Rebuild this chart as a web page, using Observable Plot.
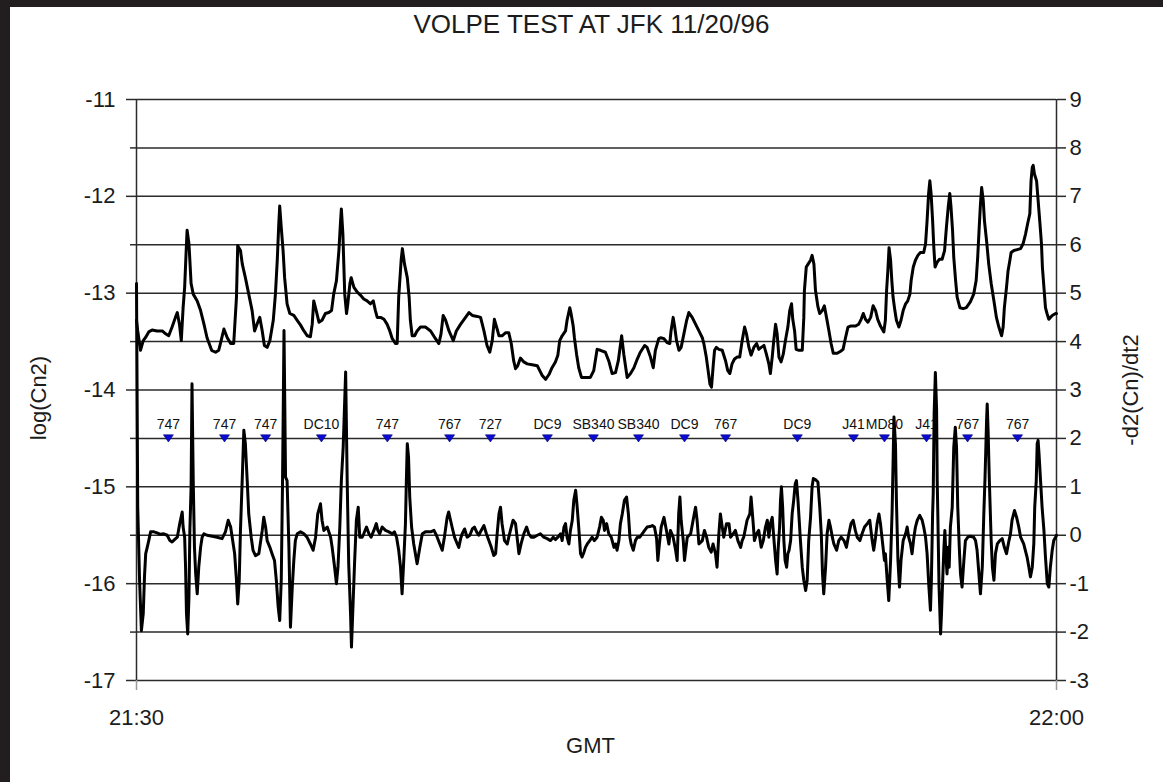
<!DOCTYPE html>
<html>
<head>
<meta charset="utf-8">
<script src="https://cdn.jsdelivr.net/npm/d3@7"></script>
<script src="https://cdn.jsdelivr.net/npm/@observablehq/plot@0.6"></script>
<style>
  html, body { margin: 0; padding: 0; background: #221e1f; width: 1163px; height: 782px; overflow: hidden; }
  #chart { position: absolute; left: 10px; top: 7px; width: 1153px; height: 775px; background: #ffffff; }
</style>
</head>
<body>
<div id="chart"></div>
<script>
// Time axis: minutes after 21:30 GMT
const timeDomain = [0, 30];
const timeTicks = [0, 30];
const timeTickLabels = ["21:30", "22:00"];

// Left axis: log(Cn2)
const leftDomain = [-17, -11];
// Right axis: -d2(Cn)/dt2 (shares the grid: -3 .. 9)
const rightDomain = [-3, 9];

// log(Cn2) series: [minutes, log(Cn2)]
const cn2Series = [
[0,-13.28],[0.04,-13.39],[0.13,-13.59],[0.22,-13.49],[0.29,-13.46],[0.40,-13.40],[0.51,-13.38],[0.67,-13.39],[0.84,-13.39],[0.95,-13.42],[1.05,-13.44],[1.16,-13.35],[1.27,-13.25],[1.33,-13.20],[1.40,-13.32],[1.46,-13.49],[1.52,-13.15],[1.57,-12.94],[1.62,-12.56],[1.65,-12.35],[1.71,-12.49],[1.74,-12.66],[1.78,-12.90],[1.85,-13.01],[1.98,-13.08],[2.09,-13.18],[2.20,-13.32],[2.30,-13.46],[2.45,-13.59],[2.58,-13.61],[2.68,-13.59],[2.76,-13.49],[2.85,-13.37],[2.96,-13.46],[3.07,-13.52],[3.17,-13.52],[3.26,-13.04],[3.30,-12.51],[3.39,-12.56],[3.45,-12.70],[3.55,-12.84],[3.66,-13.01],[3.77,-13.18],[3.85,-13.39],[3.93,-13.32],[4.02,-13.25],[4.10,-13.39],[4.17,-13.54],[4.26,-13.56],[4.35,-13.49],[4.46,-13.28],[4.53,-13.01],[4.59,-12.66],[4.64,-12.28],[4.67,-12.10],[4.72,-12.32],[4.78,-12.56],[4.83,-12.84],[4.91,-13.11],[5.00,-13.21],[5.13,-13.23],[5.24,-13.28],[5.35,-13.33],[5.46,-13.39],[5.57,-13.44],[5.67,-13.45],[5.73,-13.32],[5.78,-13.08],[5.86,-13.18],[5.95,-13.30],[6.05,-13.28],[6.16,-13.21],[6.27,-13.20],[6.36,-13.18],[6.43,-13.01],[6.52,-12.87],[6.60,-12.56],[6.65,-12.28],[6.68,-12.13],[6.73,-12.39],[6.76,-12.70],[6.79,-13.01],[6.85,-13.21],[6.89,-13.11],[6.96,-12.90],[7.00,-12.84],[7.09,-12.94],[7.20,-12.99],[7.30,-13.02],[7.41,-13.06],[7.52,-13.08],[7.63,-13.11],[7.72,-13.08],[7.79,-13.18],[7.85,-13.25],[7.96,-13.25],[8.07,-13.27],[8.17,-13.32],[8.26,-13.39],[8.34,-13.47],[8.45,-13.52],[8.50,-13.52],[8.55,-13.04],[8.63,-12.66],[8.67,-12.54],[8.74,-12.70],[8.83,-12.84],[8.89,-13.04],[8.93,-13.28],[8.99,-13.44],[9.07,-13.44],[9.15,-13.39],[9.26,-13.35],[9.42,-13.35],[9.59,-13.39],
[9.75,-13.47],[9.86,-13.52],[9.93,-13.42],[10.00,-13.23],[10.08,-13.28],[10.19,-13.39],[10.33,-13.49],[10.43,-13.39],[10.57,-13.32],[10.73,-13.25],[10.84,-13.20],[10.95,-13.23],[11.11,-13.24],[11.22,-13.25],[11.33,-13.39],[11.43,-13.54],[11.52,-13.61],[11.60,-13.49],[11.67,-13.27],[11.76,-13.37],[11.82,-13.44],[11.92,-13.44],[12.03,-13.41],[12.14,-13.41],[12.22,-13.52],[12.30,-13.70],[12.36,-13.78],[12.43,-13.75],[12.52,-13.67],[12.63,-13.71],[12.74,-13.73],[12.90,-13.74],[13.07,-13.75],[13.15,-13.80],[13.23,-13.85],[13.34,-13.89],[13.45,-13.84],[13.55,-13.77],[13.66,-13.71],[13.74,-13.64],[13.80,-13.49],[13.88,-13.44],[13.99,-13.39],[14.04,-13.28],[14.13,-13.15],[14.17,-13.21],[14.24,-13.34],[14.28,-13.46],[14.35,-13.63],[14.42,-13.77],[14.51,-13.87],[14.64,-13.87],[14.80,-13.87],[14.91,-13.80],[15.02,-13.58],[15.13,-13.59],[15.29,-13.61],[15.40,-13.70],[15.51,-13.83],[15.62,-13.82],[15.71,-13.70],[15.82,-13.44],[15.89,-13.63],[16.00,-13.87],[16.11,-13.83],[16.22,-13.77],[16.33,-13.68],[16.43,-13.61],[16.57,-13.54],[16.65,-13.56],[16.76,-13.66],[16.85,-13.77],[16.92,-13.59],[17.03,-13.47],[17.09,-13.46],
[17.20,-13.47],[17.30,-13.51],[17.39,-13.52],[17.43,-13.39],[17.50,-13.25],[17.55,-13.35],[17.61,-13.49],[17.69,-13.59],[17.76,-13.56],[17.85,-13.42],[17.94,-13.28],[18.01,-13.20],[18.12,-13.25],[18.23,-13.32],[18.34,-13.39],[18.45,-13.46],[18.50,-13.52],[18.58,-13.66],[18.64,-13.80],[18.70,-13.94],[18.75,-13.97],[18.81,-13.73],[18.85,-13.59],[18.91,-13.56],[18.99,-13.58],[19.10,-13.59],[19.21,-13.70],[19.28,-13.80],[19.35,-13.83],[19.42,-13.73],[19.50,-13.68],[19.59,-13.66],[19.67,-13.66],[19.75,-13.49],[19.83,-13.35],[19.89,-13.42],[19.97,-13.56],[20.04,-13.64],[20.13,-13.56],[20.22,-13.52],[20.29,-13.58],[20.37,-13.56],[20.46,-13.54],[20.54,-13.63],[20.62,-13.73],[20.67,-13.83],[20.73,-13.66],[20.78,-13.49],[20.84,-13.32],[20.89,-13.42],[20.95,-13.66],[21.02,-13.71],[21.09,-13.63],[21.16,-13.49],[21.24,-13.35],[21.30,-13.18],[21.36,-13.11],[21.40,-13.27],[21.46,-13.39],[21.51,-13.58],[21.60,-13.59],[21.71,-13.59],[21.76,-13.25],[21.78,-12.97],[21.84,-12.73],[21.90,-12.70],[21.98,-12.66],[22.03,-12.61],[22.09,-12.70],[22.14,-12.97],[22.22,-13.14],[22.28,-13.21],[22.36,-13.18],[22.43,-13.13],[22.50,-13.25],[22.58,-13.39],[22.65,-13.52],[22.72,-13.62],[22.85,-13.62],[22.96,-13.60],[23.04,-13.58],[23.12,-13.46],[23.20,-13.35],[23.28,-13.34],[23.45,-13.34],[23.55,-13.32],[23.63,-13.27],[23.70,-13.21],[23.77,-13.27],[23.85,-13.30],[23.94,-13.25],[24.02,-13.13],[24.10,-13.18],[24.17,-13.27],[24.26,-13.34],
[24.37,-13.40],[24.42,-13.28],[24.46,-12.97],[24.50,-12.77],[24.54,-12.53],[24.59,-12.66],[24.63,-12.87],[24.67,-13.04],[24.73,-13.18],[24.78,-13.28],[24.86,-13.35],[24.93,-13.28],[25.00,-13.18],[25.08,-13.11],[25.15,-13.08],[25.22,-13.01],[25.26,-12.87],[25.33,-12.73],[25.40,-12.66],[25.48,-12.61],[25.56,-12.58],[25.67,-12.58],[25.73,-12.49],[25.78,-12.25],[25.83,-11.97],[25.87,-11.84],[25.91,-11.97],[25.96,-12.25],[26.00,-12.53],[26.04,-12.73],[26.11,-12.68],[26.18,-12.65],[26.27,-12.65],[26.35,-12.56],[26.41,-12.32],[26.47,-12.11],[26.52,-11.97],[26.56,-12.11],[26.61,-12.35],[26.65,-12.63],[26.71,-12.87],[26.76,-13.04],[26.85,-13.15],[26.96,-13.16],[27.06,-13.15],[27.19,-13.09],[27.30,-13.01],[27.38,-12.87],[27.43,-12.63],[27.48,-12.32],[27.52,-12.08],[27.56,-11.91],[27.61,-12.04],[27.65,-12.25],[27.72,-12.46],[27.79,-12.70],[27.87,-12.90],[27.96,-13.08],[28.04,-13.25],[28.12,-13.35],[28.21,-13.44],[28.26,-13.35],[28.30,-13.15],[28.37,-12.94],[28.42,-12.77],[28.48,-12.66],[28.52,-12.58],[28.61,-12.56],[28.72,-12.55],[28.83,-12.54],[28.91,-12.49],[28.99,-12.39],[29.06,-12.28],[29.13,-12.18],[29.17,-11.84],[29.21,-11.70],[29.24,-11.68],[29.28,-11.77],[29.35,-11.84],[29.40,-12.04],[29.46,-12.28],[29.51,-12.49],[29.54,-12.73],[29.59,-12.94],[29.64,-13.15],[29.69,-13.21],[29.75,-13.27],[29.86,-13.23],[29.97,-13.21],[30.00,-13.21]
];

// -d2(Cn)/dt2 series: [minutes, value on right axis]
const d2Series = [
[0,5.2],[0.04,0.58],[0.10,-0.93],[0.16,-1.97],[0.22,-1.62],[0.26,-0.86],[0.30,-0.38],[0.35,-0.25],[0.40,-0.11],[0.46,0.07],[0.57,0.07],[0.67,0.05],[0.78,0.02],[0.89,0.03],[1.00,0.00],[1.09,-0.11],[1.16,-0.14],[1.24,-0.09],[1.33,-0.04],[1.41,0.24],[1.49,0.48],[1.52,0.17],[1.57,-0.04],[1.60,-0.66],[1.63,-1.62],[1.67,-2.04],[1.71,-1.28],[1.74,0.10],[1.78,0.99],[1.81,3.13],[1.85,1.13],[1.89,-0.25],[1.93,-0.80],[1.98,-1.21],[2.03,-0.66],[2.09,-0.25],[2.14,-0.04],[2.20,0.03],[2.30,0.00],[2.47,-0.02],[2.63,-0.04],[2.79,-0.07],[2.90,0.07],[2.99,0.31],[3.07,0.17],[3.12,-0.04],[3.20,-0.38],[3.26,-0.93],[3.30,-1.42],[3.35,-0.93],[3.39,0.10],[3.45,1.20],[3.50,2.17],[3.55,1.89],[3.61,1.13],[3.66,0.44],[3.74,-0.04],[3.80,-0.31],[3.88,-0.42],[3.99,-0.38],[4.10,0.10],[4.15,0.37],[4.21,0.17],[4.26,-0.11],[4.35,-0.25],[4.42,-0.38],[4.50,-0.52],[4.56,-0.93],[4.62,-1.48],[4.67,-1.76],[4.72,-0.93],[4.76,0.99],[4.81,4.23],[4.86,1.20],[4.91,1.13],[4.97,-0.25],[5.02,-1.90],[5.08,-1.07],[5.13,-0.52],[5.18,-0.11],[5.24,0.03],[5.35,0.07],[5.46,0.03],[5.56,-0.04],[5.67,-0.18],[5.76,-0.31],[5.84,-0.04],[5.91,0.44],[6.00,0.65],[6.05,0.31],[6.11,0.10],[6.22,0.17],[6.33,-0.04],[6.38,-0.25],[6.46,-0.66],[6.52,-1.00],[6.57,-0.66],[6.63,0.17],[6.68,1.13],[6.74,1.82],[6.82,3.37],[6.87,1.13],[6.92,-0.59],[6.98,-1.62],[7.01,-2.31],[7.05,-1.62],[7.11,-0.59],[7.17,0.31],[7.23,0.58],[7.28,-0.04],[7.36,-0.04],[7.41,0.03],[7.50,0.17],[7.58,0.03],[7.65,-0.04],[7.74,0.10],[7.82,0.24],[7.87,0.10],[7.93,0.03],[8.01,0.17],[8.12,0.10],[8.23,0.07],[8.34,0.03],[8.41,0.07],[8.48,-0.04],[8.55,-0.31],[8.61,-0.66],[8.66,-1.21],[8.72,-0.45],[8.77,0.24],[8.80,1.13],[8.83,1.89],[8.87,1.62],[8.91,0.79],[8.97,0.17],[9.04,-0.18],[9.15,-0.59],[9.24,-0.25],[9.32,0.03],[9.42,0.07],[9.59,0.07],
[9.70,0.10],[9.78,0.00],[9.89,-0.18],[9.97,-0.31],[10.04,-0.04],[10.13,0.37],[10.18,0.48],[10.24,0.31],[10.29,0.17],[10.37,-0.04],[10.46,-0.18],[10.51,-0.25],[10.57,-0.07],[10.62,0.03],[10.70,0.13],[10.78,-0.04],[10.87,0.00],[10.95,0.13],[11.02,0.17],[11.09,0.07],[11.16,0.00],[11.24,0.10],[11.33,0.20],[11.41,0.03],[11.49,-0.11],[11.57,-0.25],[11.65,-0.42],[11.71,-0.38],[11.76,0.03],[11.82,0.44],[11.87,0.58],[11.92,0.24],[12.00,-0.11],[12.09,-0.18],[12.14,-0.04],[12.22,0.17],[12.28,0.31],[12.36,0.24],[12.41,-0.04],[12.47,-0.38],[12.54,-0.18],[12.63,0.03],[12.72,0.17],[12.79,0.03],[12.87,-0.04],[12.96,-0.04],[13.07,0.00],[13.17,0.03],[13.28,-0.04],[13.39,-0.07],[13.50,-0.11],[13.59,-0.04],[13.66,-0.09],[13.74,-0.04],[13.83,0.03],[13.88,-0.11],[13.94,0.17],[13.99,0.24],[14.04,-0.04],[14.10,-0.18],[14.15,0.10],[14.21,0.31],[14.26,0.72],[14.32,0.93],[14.37,0.58],[14.42,0.17],[14.48,-0.38],[14.53,-0.45],[14.59,-0.35],[14.64,-0.25],[14.70,-0.18],[14.78,-0.11],[14.86,-0.04],[14.93,-0.11],[15.02,-0.04],[15.10,0.17],[15.16,0.37],[15.22,0.31],[15.26,0.10],[15.33,0.24],[15.40,0.03],[15.48,-0.04],[15.57,-0.25],[15.62,-0.18],[15.67,-0.31],[15.73,-0.11],[15.78,0.24],[15.84,0.44],[15.91,0.72],[15.98,0.79],[16.04,0.44],[16.09,-0.04],[16.13,-0.18],[16.20,-0.31],[16.27,-0.11],[16.33,-0.04],[16.41,-0.04],[16.49,0.03],[16.57,0.10],[16.65,0.17],[16.74,0.18],[16.82,0.20],[16.89,0.17],[16.96,-0.07],[17.00,-0.52],[17.04,-0.25],[17.11,0.17],[17.20,0.37],[17.28,0.10],[17.36,-0.18],[17.41,0.10],[17.50,-0.04],[17.58,-0.31],[17.63,-0.52],[17.68,0.44],[17.72,0.79],[17.76,0.31],[17.83,-0.11],[17.87,-0.52],[17.96,-0.04],[18.07,0.03],[18.15,0.31],[18.23,0.58],[18.28,0.31],[18.34,-0.18],[18.45,-0.11],[18.52,0.10],[18.59,-0.04],[18.66,-0.25],[18.74,-0.35],[18.80,-0.18],[18.88,-0.38],[18.93,-0.66],[18.99,0.03],[19.04,0.44],[19.10,0.17],[19.15,-0.04],[19.24,0.24],[19.32,0.24],[19.37,-0.04],[19.46,0.03],[19.53,0.10],[19.61,-0.11],[19.70,-0.25],[19.75,-0.11],[19.80,-0.04],[19.91,0.31],[20.00,0.44],[20.04,0.79],[20.11,0.24],[20.15,-0.11],[20.22,0.03],[20.29,0.10],[20.37,-0.25],[20.44,-0.11],[20.51,0.17],[20.57,0.31],[20.62,-0.04],[20.67,0.24],[20.73,0.37],[20.78,-0.04],[20.84,-0.52],
[20.89,-0.80],[20.92,-0.32],[20.97,0.17],[21.00,0.72],[21.03,1.00],[21.07,0.58],[21.11,-0.11],[21.15,-0.52],[21.20,-0.66],[21.24,-0.38],[21.28,-0.31],[21.33,-0.11],[21.38,0.44],[21.43,0.72],[21.48,1.06],[21.52,1.13],[21.57,0.72],[21.61,0.31],[21.65,-0.11],[21.71,-0.66],[21.76,-0.93],[21.82,-1.14],[21.87,-0.93],[21.92,-0.11],[21.98,0.37],[22.03,1.00],[22.07,1.17],[22.14,1.15],[22.22,1.10],[22.28,0.58],[22.33,0.03],[22.37,-0.80],[22.41,-1.21],[22.47,-0.66],[22.52,0.03],[22.58,0.31],[22.63,0.17],[22.69,-0.04],[22.74,-0.18],[22.83,-0.31],[22.90,-0.11],[22.98,-0.04],[23.07,-0.11],[23.15,-0.25],[23.23,0.03],[23.30,0.24],[23.37,0.31],[23.44,0.10],[23.50,-0.04],[23.59,-0.11],[23.66,0.03],[23.74,0.17],[23.83,0.24],[23.91,0.31],[23.99,-0.11],[24.04,-0.31],[24.10,-0.04],[24.15,0.24],[24.21,0.44],[24.26,0.24],[24.32,-0.11],[24.39,-0.52],
[24.42,-0.38],[24.48,-0.93],[24.53,-1.35],[24.59,-0.52],[24.64,0.51],[24.70,2.44],[24.75,1.86],[24.78,0.72],[24.83,-0.52],[24.88,-1.07],[24.93,-0.52],[25.00,-0.11],[25.08,0.03],[25.13,0.17],[25.18,-0.04],[25.24,-0.18],[25.29,-0.38],[25.35,-0.04],[25.40,0.17],[25.46,0.31],[25.54,0.41],[25.62,0.31],[25.67,0.17],[25.73,-0.04],[25.78,-0.38],[25.84,-1.07],[25.89,-1.55],[25.92,-0.93],[25.96,0.44],[25.98,0.86],[26.01,2.51],[26.05,3.36],[26.09,2.60],[26.11,1.13],[26.13,0.44],[26.17,-1.07],[26.22,-2.04],[26.25,-1.62],[26.28,-1.07],[26.33,-0.25],[26.36,0.10],[26.39,-0.38],[26.43,-0.80],[26.47,-0.25],[26.50,-0.66],[26.54,0.17],[26.60,0.58],[26.65,1.82],[26.70,2.23],[26.74,1.82],[26.78,0.58],[26.83,-0.25],[26.87,-0.80],[26.92,-1.07],[26.98,-0.52],[27.03,-0.11],[27.11,-0.04],[27.19,-0.02],[27.30,-0.04],[27.36,-0.11],[27.41,-0.31],[27.47,-0.80],[27.52,-1.21],[27.58,-0.66],[27.63,0.44],[27.67,1.20],[27.72,2.37],[27.74,2.71],[27.77,2.16],[27.81,1.13],[27.87,-0.11],[27.91,-0.66],[27.96,-0.93],[28.01,-0.38],[28.07,-0.18],[28.15,-0.11],[28.23,-0.07],[28.30,-0.25],[28.37,-0.38],[28.45,-0.11],[28.50,0.03],[28.55,0.31],[28.63,0.51],[28.70,0.37],[28.77,0.17],[28.83,-0.04],[28.93,-0.18],[29.04,-0.45],[29.10,-0.66],[29.15,-0.86],[29.21,-0.66],[29.26,-0.18],[29.29,0.58],[29.34,1.13],[29.37,1.89],[29.40,1.96],[29.43,1.68],[29.48,1.13],[29.53,0.58],[29.59,0.10],[29.64,-0.45],[29.70,-1.00],[29.75,-1.07],[29.80,-0.66],[29.86,-0.31],[29.91,-0.11],[29.97,-0.04],[30.00,0.00]
];

// Aircraft passages: minutes after 21:30 and type
const aircraftTimes = [1.04, 2.87, 4.21, 6.03, 8.18, 10.21, 11.54, 13.40, 14.90, 16.37, 17.87, 19.21, 21.55, 23.38, 24.39, 25.76, 27.10, 28.73];
const aircraftTypes = ["747", "747", "747", "DC10", "747", "767", "727", "DC9", "SB340", "SB340", "DC9", "767", "DC9", "J41", "MD80", "J41", "767", "767"];
const aircraftLevel = 2; // on the right axis

const titleText = "VOLPE TEST AT JFK 11/20/96";
const leftLabel = "log(Cn2)";
const rightLabel = "-d2(Cn)/dt2";
const xLabel = "GMT";

// map right-axis values onto the left-axis scale
const rightToLeft = d3.scaleLinear().domain(rightDomain).range(leftDomain);

const cn2 = cn2Series.map(([t, v]) => ({t, v}));
const d2 = d2Series.map(([t, r]) => ({t, v: rightToLeft(r)}));
const planes = aircraftTimes.map((t, i) => ({t, label: aircraftTypes[i], v: rightToLeft(aircraftLevel)}));

const gridValues = d3.range(0, 13).map(i => leftDomain[0] + i * 0.5);
const majorLeft = gridValues.filter(v => Number.isInteger(v));
const minorLeft = gridValues.filter(v => !Number.isInteger(v));

const triangleDown = {
  draw(ctx, size) {
    const r = Math.sqrt(size / Math.PI);
    const h = r * 0.72;
    ctx.moveTo(-r, -h);
    ctx.lineTo(r, -h);
    ctx.lineTo(0, h);
    ctx.closePath();
  }
};

const font = "'Liberation Sans', Arial, Helvetica, sans-serif";
const ink = "#1c1c1c";

const chart = Plot.plot({
  width: 1153,
  height: 775,
  marginLeft: 126,
  marginRight: 107,
  marginTop: 92,
  marginBottom: 102,
  style: {fontFamily: font, background: "#ffffff", color: ink, overflow: "visible"},
  x: {domain: timeDomain},
  y: {domain: leftDomain},
  marks: [
    Plot.ruleY(gridValues, {stroke: "#2b2b2b", strokeWidth: 1.5}),
    Plot.ruleX([timeDomain[0], timeDomain[1]], {stroke: "#2b2b2b", strokeWidth: 1.5}),
    Plot.axisY({ticks: majorLeft, tickSize: 10, tickPadding: 11, tickFormat: d => String(d), fontSize: 22, label: null, stroke: "#2b2b2b", strokeWidth: 1.5, fill: ink, style: {letterSpacing: "1px"}}),
    Plot.axisY({ticks: minorLeft, tickSize: 6, tickFormat: () => "", label: null, stroke: "#2b2b2b", strokeWidth: 1.5}),
    Plot.axisY({anchor: "right", ticks: gridValues, tickSize: 9, tickPadding: 4,
      tickFormat: v => String(Math.round(rightToLeft.invert(v))), fontSize: 22, label: null, stroke: "#2b2b2b", strokeWidth: 1.5, fill: ink}),
    Plot.axisX({ticks: timeTicks, tickSize: 10, tickPadding: 19,
      tickFormat: (d, i) => timeTickLabels[timeTicks.indexOf(d)], fontSize: 22, label: null, stroke: "#9a9a9a", strokeWidth: 1.5, fill: ink}),
    Plot.text([titleText], {text: d => d, frameAnchor: "top", lineAnchor: "middle", dy: -75, dx: -5, fontSize: 26, fill: ink}),
    Plot.text([leftLabel], {text: d => d, frameAnchor: "left", textAnchor: "middle", lineAnchor: "middle", rotate: -90, dx: -98, dy: 8, fontSize: 22, fill: ink}),
    Plot.text([rightLabel], {text: d => d, frameAnchor: "right", textAnchor: "middle", lineAnchor: "middle", rotate: -90, dx: 74, dy: 0, fontSize: 22, fill: ink}),
    Plot.text([xLabel], {text: d => d, frameAnchor: "bottom", textAnchor: "middle", lineAnchor: "middle", dy: 65, dx: -6, fontSize: 22, fill: ink}),
    Plot.text(planes, {x: "t", y: "v", text: "label", dy: -14, fontSize: 14, fill: "#111"}),
    Plot.line(cn2, {x: "t", y: "v", stroke: "#000", strokeWidth: 3}),
    Plot.line(d2, {x: "t", y: "v", stroke: "#000", strokeWidth: 3}),
    Plot.dot(planes, {x: "t", y: "v", symbol: triangleDown, r: 5, fill: "#0a0ad8", stroke: "#00006a", strokeWidth: 0.6})
  ]
});

document.getElementById("chart").appendChild(chart);
</script>
</body>
</html>
